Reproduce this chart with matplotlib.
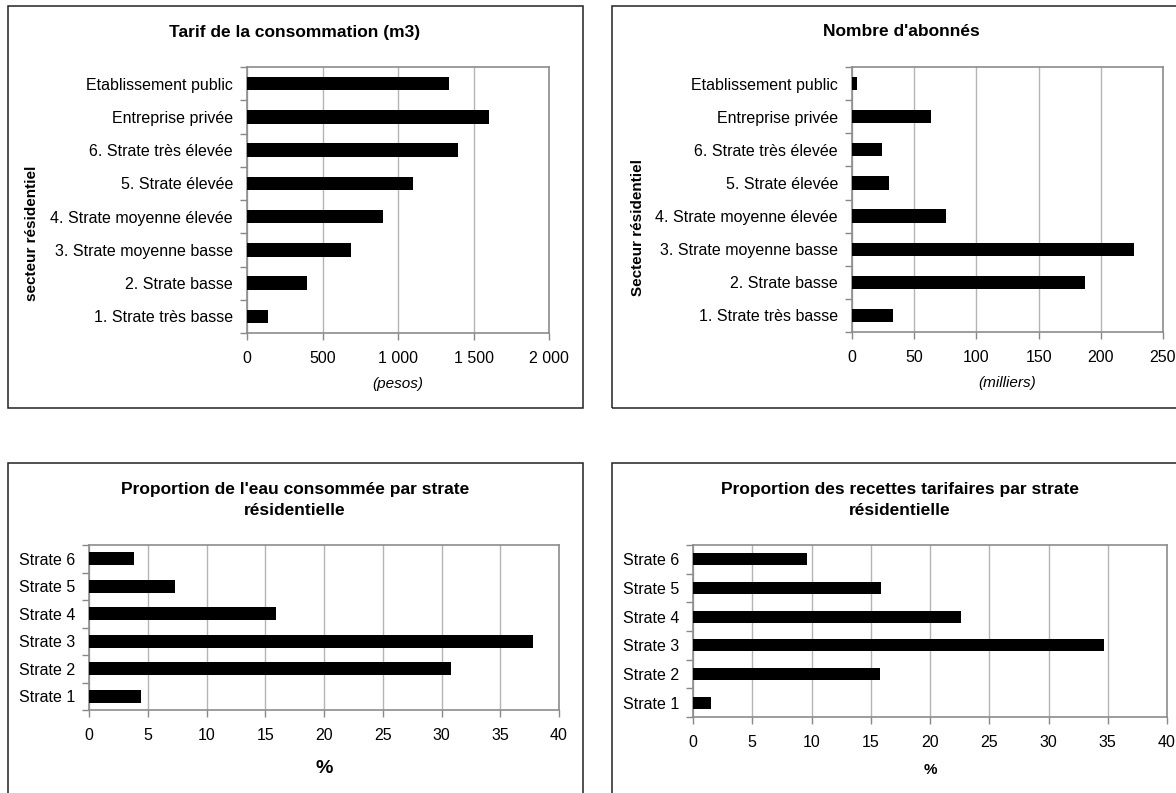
import matplotlib
matplotlib.use("Agg")
import matplotlib.pyplot as plt
from matplotlib.patches import Rectangle
from matplotlib.ticker import FuncFormatter
import numpy as np

plt.rcParams['font.family'] = ['Liberation Sans', 'DejaVu Sans']

# data, listed bottom -> top
secteurs = ["1. Strate très basse", "2. Strate basse", "3. Strate moyenne basse",
            "4. Strate moyenne élevée", "5. Strate élevée", "6. Strate très élevée",
            "Entreprise privée", "Etablissement public"]
tarif = [142, 395, 690, 900, 1100, 1400, 1600, 1335]
abonnes = [32.7, 187.5, 227, 75.8, 29.4, 24, 63.6, 4.2]

strates = ["Strate 1", "Strate 2", "Strate 3", "Strate 4", "Strate 5", "Strate 6"]
eau_pct = [4.45, 30.8, 37.8, 15.95, 7.35, 3.8]
recettes_pct = [1.55, 15.8, 34.7, 22.6, 15.9, 9.6]

W, H = 1176, 793
fig = plt.figure(figsize=(W / 100, H / 100), dpi=100)

def box(x0, y0, x1, y1):
    # panel frame in pixel coords (top-left origin)
    fig.patches.append(Rectangle((x0 / W, 1 - y1 / H), (x1 - x0) / W, (y1 - y0) / H,
                                 transform=fig.transFigure, fill=False,
                                 edgecolor='#222222', linewidth=1.1))

def axes_px(x0, y0, x1, y1):
    return fig.add_axes([x0 / W, 1 - y1 / H, (x1 - x0) / W, (y1 - y0) / H])

def style(ax, labels, values, xmax, step, bar_h, fmt=None, fs=11.5):
    y = np.arange(len(labels))
    ax.barh(y, values, height=bar_h, color='black', zorder=3)
    ax.set_xlim(0, xmax)
    ax.set_ylim(-0.5, len(labels) - 0.5)
    ax.set_xticks(np.arange(0, xmax + step, step))
    if fmt:
        ax.xaxis.set_major_formatter(FuncFormatter(fmt))
    ax.set_yticks(y)
    ax.set_yticklabels(labels)
    ax.set_yticks(np.arange(-0.5, len(labels), 1), minor=True)
    ax.tick_params(axis='y', which='major', length=0, pad=10, labelsize=fs)
    ax.tick_params(axis='y', which='minor', length=5, color='#888888', width=1)
    ax.tick_params(axis='x', which='major', length=5, color='#888888', width=1,
                   labelsize=fs, pad=8)
    ax.grid(axis='x', color='#b4b4b4', linewidth=1, zorder=0)
    for s in ax.spines.values():
        s.set_color('#8c8c8c')
        s.set_linewidth(1.2)

# panel frames
box(8, 6, 583, 408)
box(612, 6, 1190, 408)
box(8, 463, 583, 810)
box(612, 463, 1190, 810)

space_fmt = lambda v, p: f"{int(v):,}".replace(",", " ")

# top left
ax1 = axes_px(247, 67, 549, 333)
style(ax1, secteurs, tarif, 2000, 500, 0.4, space_fmt)
ax1.set_xlabel("(pesos)", fontstyle='italic', fontsize=11, labelpad=8)
fig.text(295 / W, 1 - 32 / H, "Tarif de la consommation (m3)", ha='center', va='center',
         fontsize=12.5, fontweight='bold')
fig.text(32 / W, 1 - 233 / H, "secteur résidentiel", ha='center', va='center',
         rotation=90, fontsize=11, fontweight='bold')

# top right
ax2 = axes_px(852, 67, 1163, 332)
style(ax2, secteurs, abonnes, 250, 50, 0.4)
ax2.set_xlabel("(milliers)", fontstyle='italic', fontsize=11, labelpad=8)
fig.text(901 / W, 1 - 32 / H, "Nombre d'abonnés", ha='center', va='center',
         fontsize=12.5, fontweight='bold')
fig.text(638 / W, 1 - 228 / H, "Secteur résidentiel", ha='center', va='center',
         rotation=90, fontsize=11, fontweight='bold')

# bottom left
ax3 = axes_px(89, 545, 559, 710)
style(ax3, strates, eau_pct, 40, 5, 0.48)
ax3.set_xlabel("%", fontsize=14, fontweight='bold', labelpad=12)
fig.text(295 / W, 1 - 500 / H, "Proportion de l'eau consommée par strate\nrésidentielle",
         ha='center', va='center', fontsize=12.5, fontweight='bold', linespacing=1.55)

# bottom right
ax4 = axes_px(693, 545, 1167, 717)
style(ax4, strates, recettes_pct, 40, 5, 0.42)
ax4.set_xlabel("%", fontsize=11, fontweight='bold', labelpad=9)
fig.text(900 / W, 1 - 500 / H, "Proportion des recettes tarifaires par strate\nrésidentielle",
         ha='center', va='center', fontsize=12.5, fontweight='bold', linespacing=1.55)

fig.savefig("out.png", dpi=100)
